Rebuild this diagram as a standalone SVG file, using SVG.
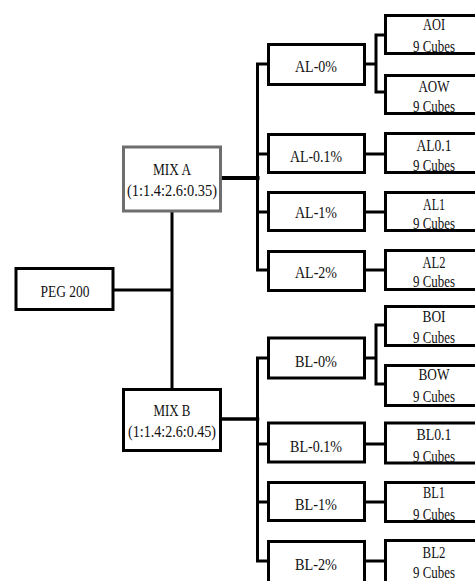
<svg xmlns="http://www.w3.org/2000/svg" width="475" height="581" viewBox="0 0 475 581">
<style>
  .box { fill: #ffffff; stroke: #000000; stroke-width: 3; }
  .boxg { fill: #ffffff; stroke: #6e6e6e; stroke-width: 3; }
  .t { font-family: "Liberation Serif", "Times New Roman", serif; font-size: 17px; fill: #111111; text-anchor: middle; }
  .ln { fill: none; stroke: #000000; stroke-width: 3; stroke-linejoin: miter; stroke-linecap: square; }
</style>
<rect width="475" height="581" fill="#ffffff"/>
<g id="connectors">
  <path class="ln" d="M114 290 H172 M172 212 V388"/>
  <path class="ln" style="stroke-width:4" d="M222 178 H257.5"/>
  <path class="ln" style="stroke-width:3.5" d="M222 419 H257.5"/>
  <path class="ln" d="M267 64 H257.5 V270 H267 M257.5 154 H267 M257.5 212 H267"/>
  <path class="ln" d="M267 358 H257.5 V561 H267 M257.5 444 H267 M257.5 502 H267"/>
  <path class="ln" d="M366 64 H376 M384 35 H376 V92 H384"/>
  <path class="ln" d="M366 154 H384 M366 212 H384 M366 270 H384"/>
  <path class="ln" d="M366 358 H376 M384 325 H376 V384 H384"/>
  <path class="ln" d="M366 444 H384 M366 502 H384 M366 561 H384"/>
</g>
<g id="peg200">
  <rect class="box" x="16" y="268.5" width="97" height="41"/>
  <text class="t" x="65" y="296.5" textLength="49" lengthAdjust="spacingAndGlyphs">PEG 200</text>
</g>
<g id="mixA">
  <rect class="boxg" x="123.5" y="147" width="97" height="64"/>
  <text class="t" x="172" y="175" textLength="38" lengthAdjust="spacingAndGlyphs">MIX A</text>
  <text class="t" x="172" y="195.5" textLength="90" lengthAdjust="spacingAndGlyphs">(1:1.4:2.6:0.35)</text>
</g>
<g id="mixB">
  <rect class="box" x="123.5" y="389.5" width="97" height="61"/>
  <text class="t" x="172" y="416" textLength="37" lengthAdjust="spacingAndGlyphs">MIX B</text>
  <text class="t" x="172" y="437" textLength="88" lengthAdjust="spacingAndGlyphs">(1:1.4:2.6:0.45)</text>
</g>
<g id="al0">
  <rect class="box" x="268.5" y="44.5" width="96" height="40"/>
  <text class="t" x="316" y="71.5" textLength="42" lengthAdjust="spacingAndGlyphs">AL-0%</text>
</g>
<g id="al01">
  <rect class="box" x="268.5" y="134.5" width="96" height="38"/>
  <text class="t" x="316" y="161.5" textLength="52" lengthAdjust="spacingAndGlyphs">AL-0.1%</text>
</g>
<g id="al1">
  <rect class="box" x="268.5" y="192.5" width="96" height="38"/>
  <text class="t" x="316" y="218" textLength="42" lengthAdjust="spacingAndGlyphs">AL-1%</text>
</g>
<g id="al2">
  <rect class="box" x="268.5" y="251.5" width="96" height="39"/>
  <text class="t" x="316" y="278" textLength="42" lengthAdjust="spacingAndGlyphs">AL-2%</text>
</g>
<g id="bl0">
  <rect class="box" x="268.5" y="338" width="96" height="40"/>
  <text class="t" x="316" y="366.5" textLength="42" lengthAdjust="spacingAndGlyphs">BL-0%</text>
</g>
<g id="bl01">
  <rect class="box" x="268.5" y="423" width="96" height="39"/>
  <text class="t" x="316" y="451.5" textLength="52" lengthAdjust="spacingAndGlyphs">BL-0.1%</text>
</g>
<g id="bl1">
  <rect class="box" x="268.5" y="482.5" width="96" height="38"/>
  <text class="t" x="316" y="510" textLength="42" lengthAdjust="spacingAndGlyphs">BL-1%</text>
</g>
<g id="bl2">
  <rect class="box" x="268.5" y="541.5" width="96" height="42"/>
  <text class="t" x="316" y="570" textLength="42" lengthAdjust="spacingAndGlyphs">BL-2%</text>
</g>
<g id="aoi">
  <rect class="box" x="385.5" y="15.5" width="101" height="38"/>
  <text class="t" x="434" y="30" textLength="22" lengthAdjust="spacingAndGlyphs">AOI</text>
  <text class="t" x="434" y="52" textLength="42" lengthAdjust="spacingAndGlyphs">9 Cubes</text>
</g>
<g id="aow">
  <rect class="box" x="385.5" y="75.5" width="101" height="38"/>
  <text class="t" x="434" y="91.5" textLength="31" lengthAdjust="spacingAndGlyphs">AOW</text>
  <text class="t" x="434" y="111.5" textLength="42" lengthAdjust="spacingAndGlyphs">9 Cubes</text>
</g>
<g id="al01c">
  <rect class="box" x="385.5" y="133.5" width="101" height="39"/>
  <text class="t" x="434" y="151" textLength="35" lengthAdjust="spacingAndGlyphs">AL0.1</text>
  <text class="t" x="434" y="170.5" textLength="42" lengthAdjust="spacingAndGlyphs">9 Cubes</text>
</g>
<g id="al1c">
  <rect class="box" x="385.5" y="192.5" width="101" height="38"/>
  <text class="t" x="434" y="209.5" textLength="22" lengthAdjust="spacingAndGlyphs">AL1</text>
  <text class="t" x="434" y="228.5" textLength="42" lengthAdjust="spacingAndGlyphs">9 Cubes</text>
</g>
<g id="al2c">
  <rect class="box" x="385.5" y="250.5" width="101" height="39"/>
  <text class="t" x="434" y="267.5" textLength="23" lengthAdjust="spacingAndGlyphs">AL2</text>
  <text class="t" x="434" y="287" textLength="42" lengthAdjust="spacingAndGlyphs">9 Cubes</text>
</g>
<g id="boi">
  <rect class="box" x="385.5" y="306.5" width="101" height="39"/>
  <text class="t" x="434" y="321.5" textLength="23" lengthAdjust="spacingAndGlyphs">BOI</text>
  <text class="t" x="434" y="343" textLength="42" lengthAdjust="spacingAndGlyphs">9 Cubes</text>
</g>
<g id="bow">
  <rect class="box" x="385.5" y="365.5" width="101" height="40"/>
  <text class="t" x="434" y="380" textLength="31" lengthAdjust="spacingAndGlyphs">BOW</text>
  <text class="t" x="434" y="401.5" textLength="42" lengthAdjust="spacingAndGlyphs">9 Cubes</text>
</g>
<g id="bl01c">
  <rect class="box" x="385.5" y="423" width="101" height="40"/>
  <text class="t" x="434" y="439.5" textLength="35" lengthAdjust="spacingAndGlyphs">BL0.1</text>
  <text class="t" x="434" y="461.5" textLength="42" lengthAdjust="spacingAndGlyphs">9 Cubes</text>
</g>
<g id="bl1c">
  <rect class="box" x="385.5" y="482.5" width="101" height="39"/>
  <text class="t" x="434" y="498" textLength="22" lengthAdjust="spacingAndGlyphs">BL1</text>
  <text class="t" x="434" y="520" textLength="42" lengthAdjust="spacingAndGlyphs">9 Cubes</text>
</g>
<g id="bl2c">
  <rect class="box" x="385.5" y="540.5" width="101" height="42"/>
  <text class="t" x="434" y="558" textLength="23" lengthAdjust="spacingAndGlyphs">BL2</text>
  <text class="t" x="434" y="578" textLength="42" lengthAdjust="spacingAndGlyphs">9 Cubes</text>
</g>
</svg>
